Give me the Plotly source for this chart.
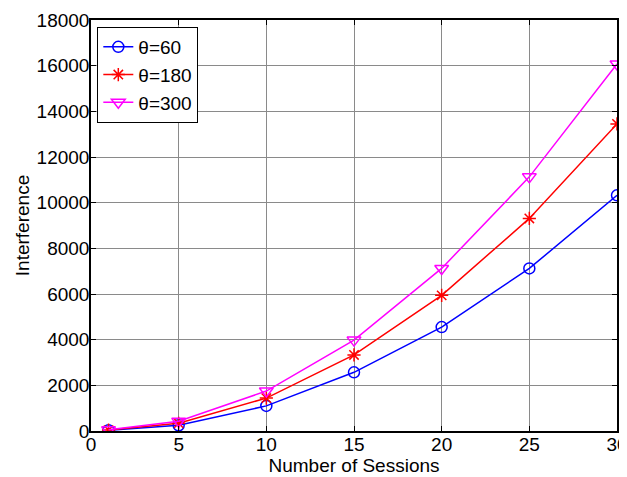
import plotly.graph_objects as go

sessions = [1, 5, 10, 15, 20, 25, 30]
theta60 = [30, 250, 1100, 2570, 4550, 7120, 10320]
theta180 = [40, 340, 1440, 3330, 5940, 9310, 13450]
theta300 = [50, 430, 1750, 3980, 7120, 11130, 16070]
series_names = ["θ=60", "θ=180", "θ=300"]
x_ticks = [0, 5, 10, 15, 20, 25, 30]
y_ticks = [0, 2000, 4000, 6000, 8000, 10000, 12000, 14000, 16000, 18000]

FONT = "Liberation Sans, Arial"
FS = 19

fig = go.Figure()
styles = [
    ("#0000ff", "circle-open", 11),
    ("#ff0000", "asterisk-open", 11),
    ("#ff00ff", "triangle-down-open", 12),
]
for name, vals, (col, sym, sz) in zip(series_names, [theta60, theta180, theta300], styles):
    fig.add_trace(go.Scatter(
        x=sessions, y=vals, name=name, mode="lines+markers",
        line=dict(color=col, width=1.5),
        marker=dict(symbol=sym, size=sz, color=col, line=dict(color=col, width=1.5)),
    ))

axis_common = dict(
    showline=True, linecolor="black", linewidth=1.5, mirror="ticks",
    ticks="inside", ticklen=5, tickcolor="black",
    showgrid=True, gridcolor="#8a8a8a", gridwidth=1,
    zeroline=False, automargin=False, ticklabeloverflow="allow",
    tickfont=dict(family=FONT, size=FS, color="black"),
)
fig.update_xaxes(range=[0, 30], tickvals=x_ticks, ticktext=[str(v) for v in x_ticks],
                 ticklabelstandoff=-5,
                 title=dict(text="Number of Sessions", font=dict(family=FONT, size=FS, color="black"), standoff=4),
                 **axis_common)
fig.update_yaxes(range=[0, 18000], tickvals=y_ticks, ticktext=[str(v) for v in y_ticks],
                 ticklabelstandoff=-4,
                 title=dict(text="Interference", font=dict(family=FONT, size=FS, color="black"), standoff=2),
                 **axis_common)

# page body has an 8px margin, so the figure is shrunk and shifted to compensate
fig.update_layout(
    width=619, height=469,
    margin=dict(l=83, r=10, t=12, b=46),
    paper_bgcolor="white", plot_bgcolor="white",
    legend=dict(x=0.012, y=0.983, xanchor="left", yanchor="top",
                bordercolor="black", borderwidth=1, bgcolor="white",
                font=dict(family=FONT, size=FS, color="black"),
                tracegroupgap=0, itemwidth=30),
    showlegend=True,
)
fig.write_html("out.html")
